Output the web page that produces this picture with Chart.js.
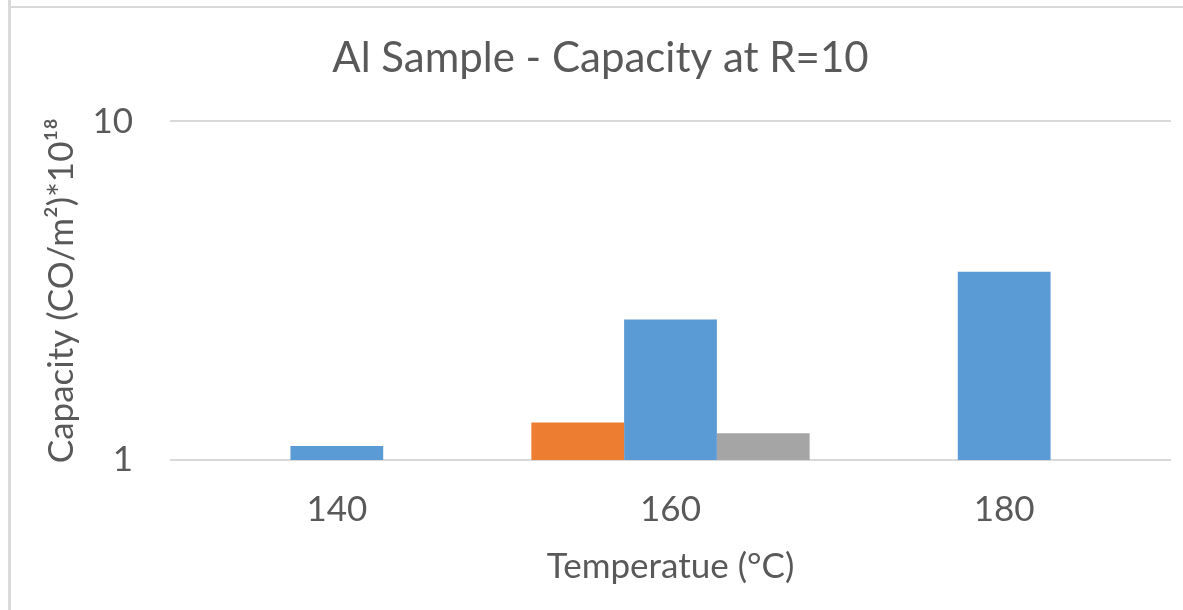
<!DOCTYPE html>
<html>
<head>
<meta charset="utf-8">
<script src="https://cdn.jsdelivr.net/npm/chart.js@4/dist/chart.umd.min.js"></script>
<style>
  html, body { margin: 0; padding: 0; background: #fff; }
  #wrap { position: relative; width: 1183px; height: 610px; overflow: hidden; }
  #vline { position: absolute; left: 8px; top: 0; width: 3px; height: 610px; background: #d9d9d9; }
  #hline { position: absolute; left: 8px; top: 6px; width: 1175px; height: 2px; background: #d9d9d9; }
  canvas { position: absolute; left: 0; top: 0; }
</style>
</head>
<body>
<div id="wrap">
  <canvas id="my-chart" width="1183" height="610"></canvas>
  <div id="vline"></div>
  <div id="hline"></div>
</div>
<script>
// categories (temperature)
const temps = ['140', '160', '180'];
// capacity values
const orangeVals = [null, 1.29, null];
const blueVals = [1.10, 2.6, 3.6];
const grayVals = [null, 1.2, null];
const yTicks = [1, 10];

const txt = '#595959';
const font = 'Lato, "Noto Sans", sans-serif';

const ctx = document.getElementById('my-chart').getContext('2d');
const chart = new Chart(ctx, {
    type: 'bar',
    data: {
        labels: temps,
        datasets: [
            { label: 'a', data: orangeVals, backgroundColor: '#ED7D31' },
            { label: 'b', data: blueVals, backgroundColor: '#5B9BD5' },
            { label: 'c', data: grayVals, backgroundColor: '#A5A5A5' }
        ]
    },
    options: {
        responsive: false,
        animation: false,
        layout: { padding: { left: 30, right: 12, top: 0, bottom: 22 } },
        datasets: { bar: { categoryPercentage: 0.834, barPercentage: 1.0 } },
        plugins: {
            legend: { display: false },
            tooltip: { enabled: false },
            title: {
                display: true,
                text: 'Al Sample - Capacity at R=10',
                color: txt,
                font: { family: font, size: 42, weight: 'normal' },
                padding: { top: 33, bottom: 38 }
            }
        },
        scales: {
            x: {
                afterFit: scale => { scale.height = 128; },
                grid: { display: false, drawTicks: false },
                border: { display: false },
                ticks: { color: txt, font: { family: font, size: 35 }, padding: 29 },
                title: {
                    display: true,
                    text: 'Temperatue (°C)',
                    color: txt,
                    font: { family: font, size: 35 },
                    padding: { top: 0, bottom: 0 }
                }
            },
            y: {
                type: 'logarithmic',
                min: 1,
                max: 10,
                afterBuildTicks: scale => { scale.ticks = yTicks.map(v => ({ value: v })); },
                afterFit: scale => { scale.width = 140; },
                grid: { color: '#d9d9d9', lineWidth: 2, drawTicks: false },
                border: { display: false },
                ticks: {
                    color: txt,
                    font: { family: font, size: 35 },
                    padding: 37,
                    callback: v => String(v)
                },
                title: {
                    display: true,
                    text: 'Capacity (CO/m²)*10¹⁸',
                    color: txt,
                    font: { family: font, size: 35 },
                    padding: { top: 11, bottom: 0 }
                }
            }
        }
    }
});
</script>
</body>
</html>
